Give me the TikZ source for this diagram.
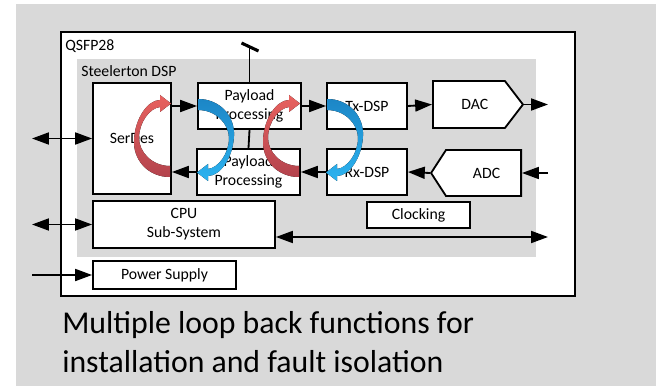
\documentclass[tikz,border=0pt]{standalone}
\usepackage{fontspec}
\setmainfont{Carlito}
\usetikzlibrary{arrows.meta,positioning,calc,shapes.symbols}
\definecolor{panelgray}{HTML}{D9D9D9}
\definecolor{loopred}{HTML}{E8625F}
\definecolor{loopreddark}{HTML}{B3434D}
\definecolor{loopblue}{HTML}{1C86C6}
\definecolor{loopbluelight}{HTML}{2CB3F0}

\begin{document}
\begin{tikzpicture}[x=0.025cm, y=-0.025cm,
    blk/.style={draw, line width=1.3pt, fill=white, inner sep=0pt, align=center,
                font=\fontsize{11.2}{13.4}\selectfont},
    conv/.style={blk, shape=signal, signal from=nowhere},
    lbl/.style={anchor=base west, inner sep=0pt, font=\fontsize{11.2}{13.4}\selectfont},
    caption/.style={anchor=base west, inner sep=0pt, font=\fontsize{22.6}{27}\selectfont},
    arr/.style={-{Triangle[length=12pt,width=8.5pt]}, line width=1.3pt},
    darr/.style={{Triangle[length=12pt,width=8.5pt]}-{Triangle[length=12pt,width=8.5pt]}, line width=1.3pt},
    pics/redloop/.style={code={
      \fill[top color=loopred, bottom color=loopreddark]
        (0,31) -- (0,42) .. controls (-22,42) and (-37,25) .. (-36,5)
        .. controls (-35,-17) and (-22,-35) .. (-10,-35) -- (-10,-40) -- (1,-31.5)
        -- (-10,-23) -- (-10,-28) .. controls (-20,-27) and (-31,-13) .. (-31,3)
        .. controls (-31,17) and (-18,31) .. (0,31) -- cycle;}},
    pics/blueloop/.style={code={
      \fill[top color=loopblue, bottom color=loopbluelight]
        (0,-31) -- (0,-42) .. controls (22,-42) and (37,-25) .. (36,-5)
        .. controls (35,17) and (22,35) .. (10,35) -- (10,40) -- (-1,31.5)
        -- (10,23) -- (10,28) .. controls (20,27) and (31,13) .. (31,-3)
        .. controls (31,-17) and (18,-31) .. (0,-31) -- cycle;}},
]
\useasboundingbox (0,0) rectangle (656,386);
\fill[panelgray] (16,4) rectangle (656,386);

% Module and DSP outlines
\node[draw, line width=1.3pt, fill=white, minimum width=12.85cm, minimum height=6.6cm] (qsfp) at (318,164) {};
\node[fill=panelgray, minimum width=11.475cm, minimum height=4.95cm] (dsp) at (306.5,158) {};
\node[lbl] (qsfplbl) at (65,51) {QSFP28};
\node[lbl] (dsplbl) at (81,77) {Steelerton DSP};

% Data path blocks
\node[blk, minimum width=1.95cm, minimum height=2.775cm] (serdes) at (132,138.5) {SerDes};
\node[blk, minimum width=2.575cm, minimum height=1.15cm] (pptx) at (249.5,106) {Payload\\Processing};
\node[blk, minimum width=2.575cm, minimum height=1.15cm] (pprx) at (248.5,172) {Payload\\Processing};
\node[blk, minimum width=2cm, minimum height=1.15cm] (txdsp) at (367,106) {Tx-DSP};
\node[blk, minimum width=2cm, minimum height=1.15cm] (rxdsp) at (367,172) {Rx-DSP};
\node[conv, signal to=east, signal pointer angle=105, minimum width=2.25cm, minimum height=1.175cm,
      anchor=west] (dac) at (432,104.5) {\hspace*{0.3cm}DAC};
\node[conv, signal to=west, signal pointer angle=114, minimum width=2.25cm, minimum height=1.15cm,
      anchor=east] (adc) at (522,173) {\hspace*{0.15cm}ADC};

% Control blocks
\node[blk, minimum width=4.55cm, minimum height=1.175cm] (cpu) at (184,224.5) {CPU\\Sub-System};
\node[blk, minimum width=2.575cm, minimum height=0.65cm] (clk) at (418.5,215) {Clocking};
\node[blk, minimum width=3.575cm, minimum height=0.7cm] (psu) at (164.5,275) {Power Supply};

\coordinate (edgeL) at (32,0);
\coordinate (edgeR) at (548,0);
\coordinate (ant) at (249.5,47);
\coordinate (bus) at (548,237);

% Tx direction
\draw[arr] (serdes.east |- pptx.west) -- (pptx.west);
\draw[arr] (pptx.east) -- (txdsp.west);
\draw[arr] (txdsp.east) -- (dac.west);
\draw[arr] (dac.east) -- (dac.east -| edgeR);

% Rx direction
\draw[arr] (adc.east -| edgeR) -- (adc.east);
\draw[arr] (adc.west) -- (rxdsp.east);
\draw[arr] (rxdsp.west) -- (pprx.east);
\draw[arr] (pprx.west) -- (pprx.west -| serdes.east);

% External links
\draw[darr] (serdes.west -| edgeL) -- (serdes.west);
\draw[darr] (cpu.west -| edgeL) -- (cpu.west);
\draw[arr] (psu.west -| edgeL) -- (psu.west);
\draw[darr] (bus -| cpu.east) -- (bus);

% Payload link and tap
\draw[line width=1.3pt] (pptx.south) -- (pprx.north);
\draw[line width=1.3pt] (pptx.north) -- (ant);
\draw[line width=2.2pt] ($(ant)+(-8,-4)$) -- ($(ant)+(9,4)$);

% Loop backs
\pic at (170,135) {redloop};
\pic at (299,135) {redloop};
\pic at (198,141) {blueloop};
\pic at (327,141) {blueloop};

% Caption
\node[caption] (cap1) at (62,333) {Multiple loop back functions for};
\node[caption] (cap2) at (62,372) {installation and fault isolation};
\end{tikzpicture}
\end{document}
